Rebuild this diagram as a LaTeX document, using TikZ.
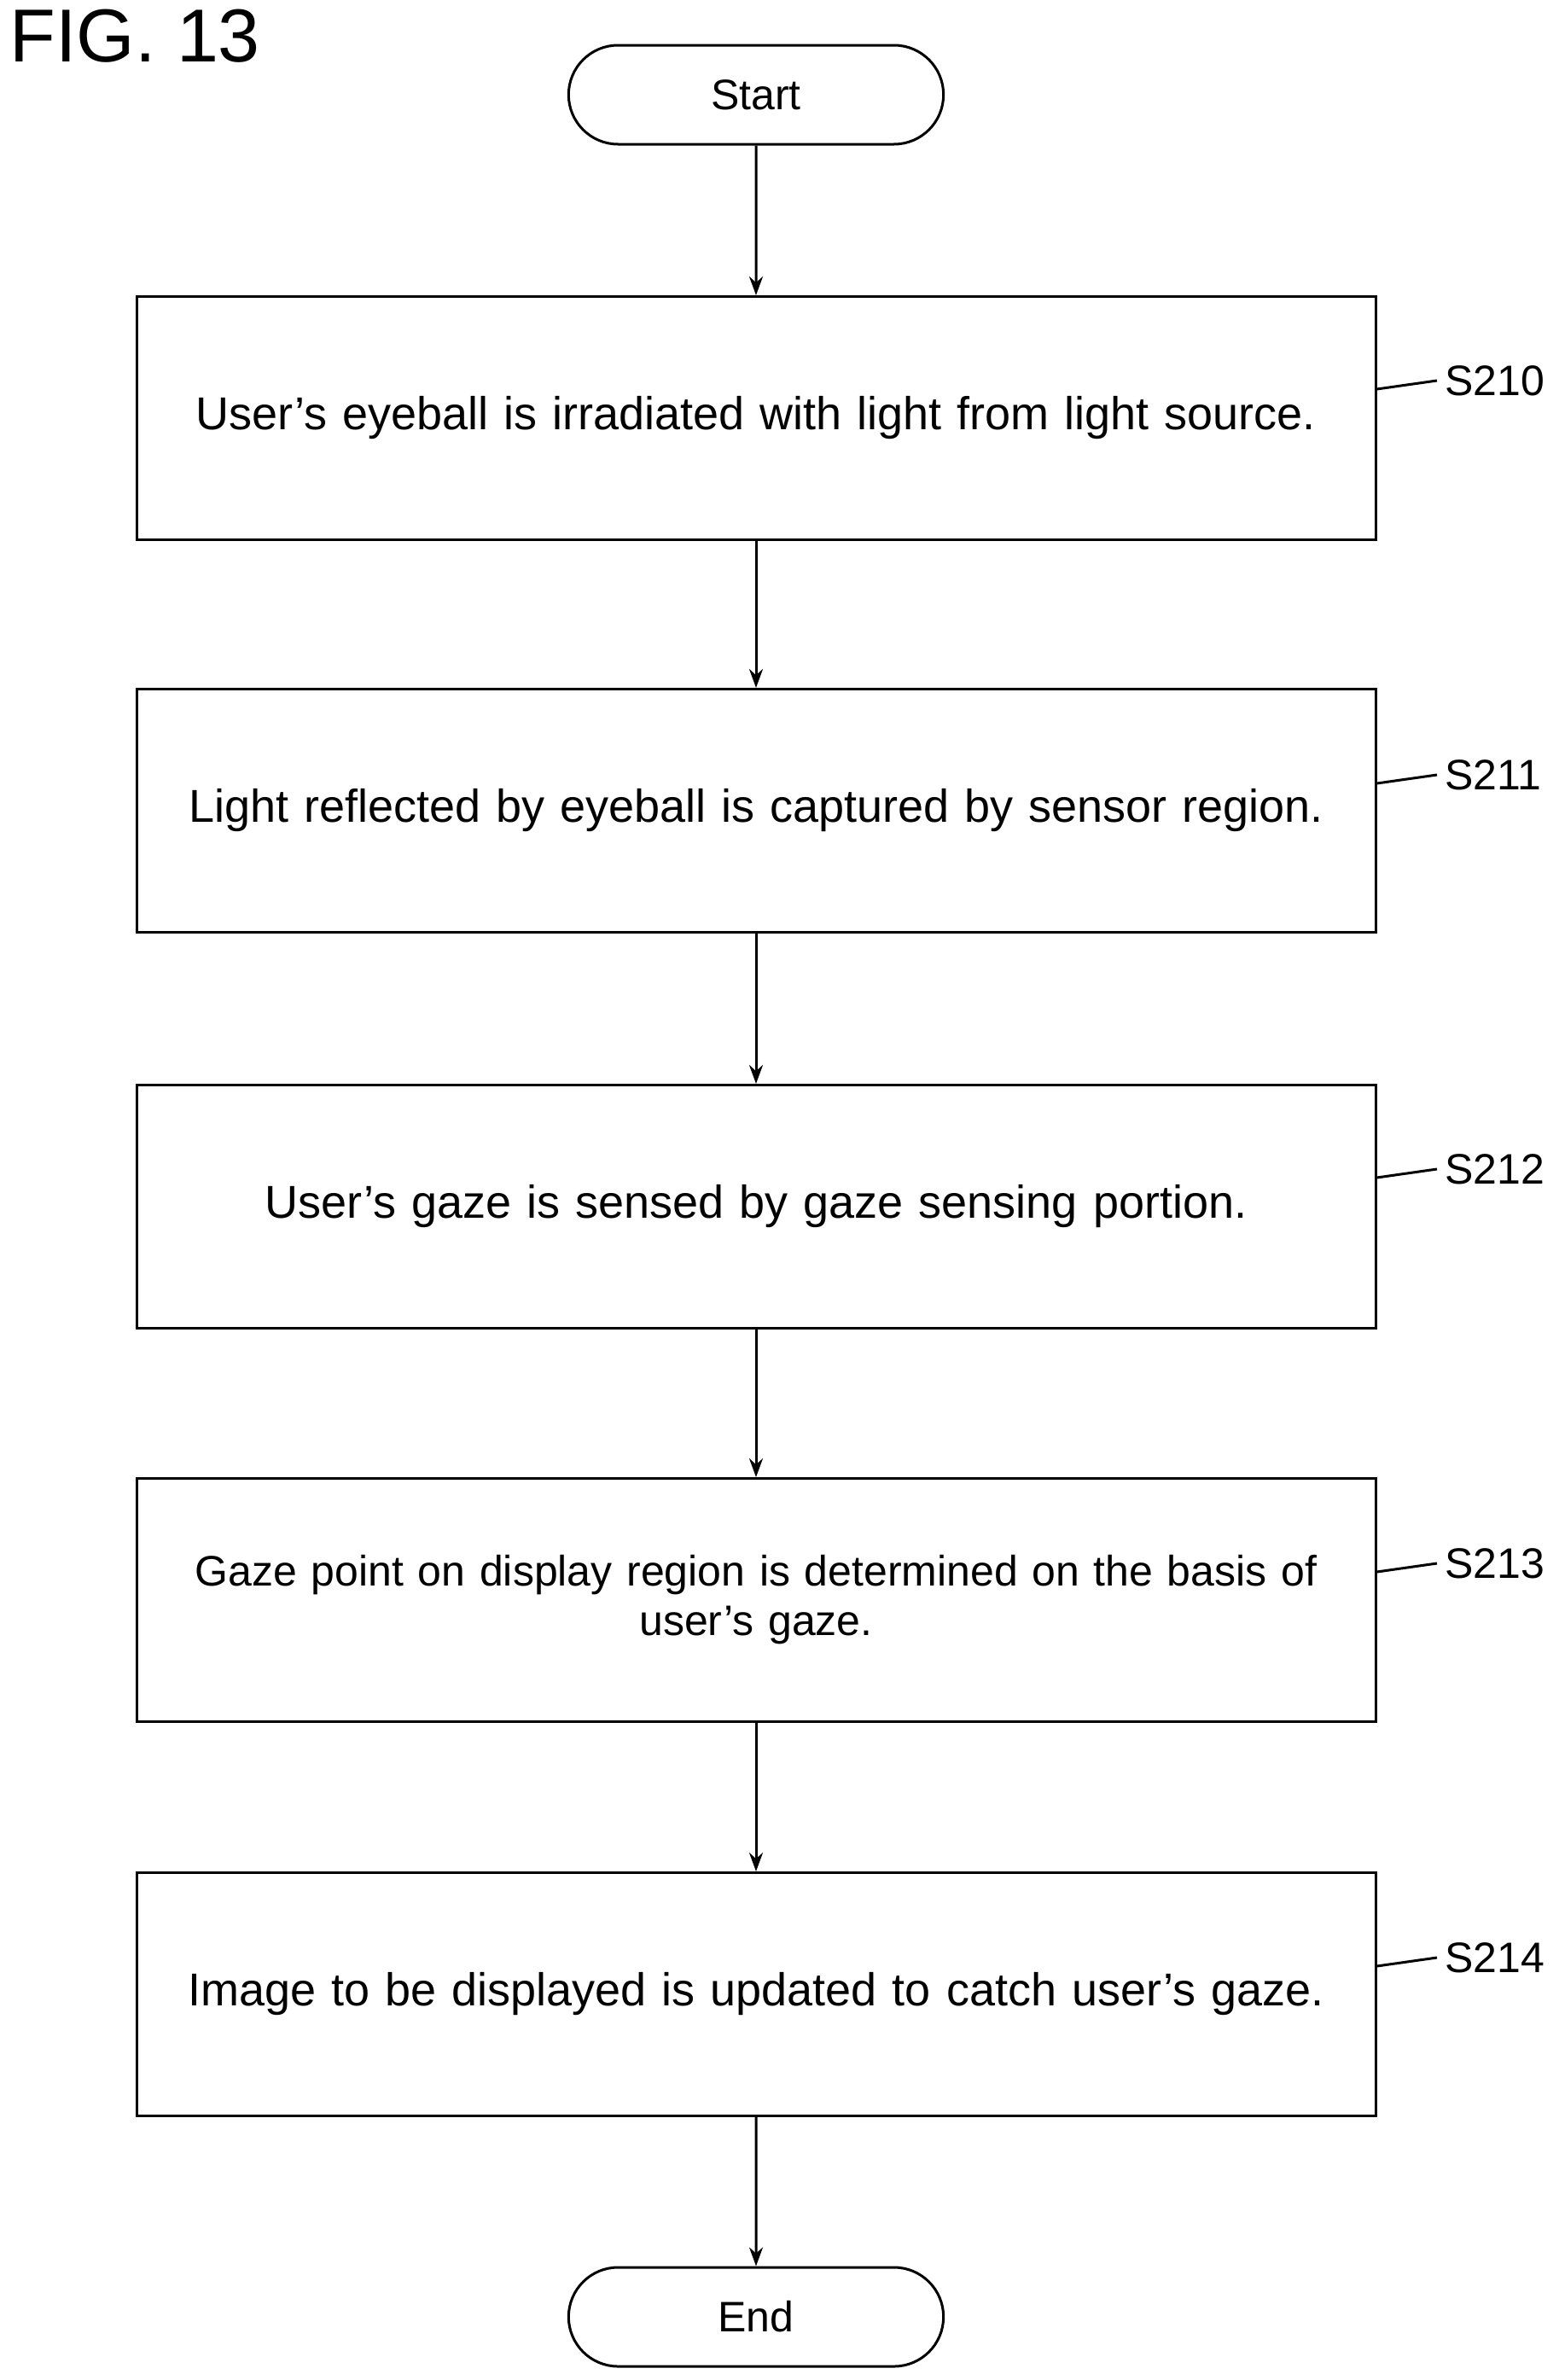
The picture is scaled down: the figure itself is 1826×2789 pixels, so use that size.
\documentclass[tikz,border=0pt]{standalone}
\usepackage{fontspec}
\setmainfont{Liberation Sans}
\usetikzlibrary{shapes.misc,arrows.meta}
\begin{document}
\begin{tikzpicture}[x=1pt,y=-1pt,
  box/.style={draw,line width=3pt,minimum width=1452pt,minimum height=285pt,align=center,font=\fontsize{54}{60}\selectfont,text width=1420pt},
  term/.style={draw,line width=3pt,rounded rectangle,minimum width=446pt,minimum height=116pt,font=\fontsize{50}{60}\selectfont},
  arr/.style={line width=3pt,-{Stealth[length=22pt,width=16pt]}},
  lab/.style={font=\fontsize{50}{60}\selectfont,anchor=west},
  lead/.style={line width=3pt}]
\useasboundingbox (0,0) rectangle (1826,2789);
\node[anchor=north west,font=\fontsize{88}{100}\selectfont] (fig) at (8,8) {FIG. 13};
\node[term] (start) at (886,111) {Start};
\node[box] (b1) at (886,490) {User’s eyeball is irradiated with light from light source.};
\node[box] (b2) at (886,950) {Light reflected by eyeball is captured by sensor region.};
\node[box] (b3) at (886,1414) {User’s gaze is sensed by gaze sensing portion.};
\node[box,font=\fontsize{50}{58}\selectfont] (b4) at (886,1875) {Gaze point on display region is determined on the basis of\\ user’s gaze.};
\node[box] (b5) at (886,2337) {Image to be displayed is updated to catch user’s gaze.};
\node[term] (end) at (886,2715) {End};
\draw[arr] (start) -- (b1);
\draw[arr] (b1) -- (b2);
\draw[arr] (b2) -- (b3);
\draw[arr] (b3) -- (b4);
\draw[arr] (b4) -- (b5);
\draw[arr] (b5) -- (end);
\foreach \n/\y/\t in {b1/446/S210,b2/908/S211,b3/1370/S212,b4/1832/S213,b5/2294/S214}{
  \node[lab] (l\n) at (1690,\y) {\t};
  \draw[lead] (\n.east |- 0,\y+10) -- ([xshift=-6pt]l\n.west |- 0,\y);
}
\end{tikzpicture}
\end{document}
